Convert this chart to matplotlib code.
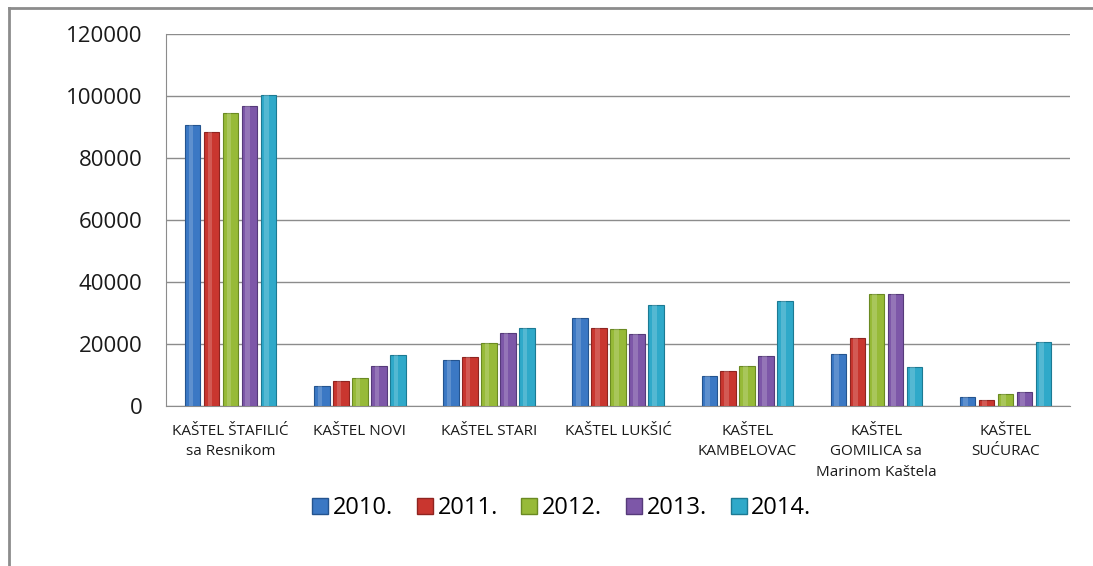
import numpy as np
import matplotlib
matplotlib.use('Agg')
import matplotlib.pyplot as plt
from matplotlib.patches import Patch

plt.rcParams['font.family'] = ['Open Sans', 'DejaVu Sans']

places = ['KAŠTEL ŠTAFILIĆ\nsa Resnikom', 'KAŠTEL NOVI', 'KAŠTEL STARI', 'KAŠTEL LUKŠIĆ',
          'KAŠTEL\nKAMBELOVAC', 'KAŠTEL\nGOMILICA sa\nMarinom Kaštela', 'KAŠTEL\nSUĆURAC']
years = ['2010.', '2011.', '2012.', '2013.', '2014.']

v2010 = [90500, 6500, 14900, 28200, 9500, 16700, 2900]
v2011 = [88400, 8000, 15600, 25100, 11100, 21800, 2000]
v2012 = [94400, 8900, 20200, 24700, 13000, 36100, 3850]
v2013 = [96800, 13000, 23500, 23200, 16000, 36100, 4300]
v2014 = [100300, 16500, 25100, 32400, 33700, 12500, 20500]
series = [v2010, v2011, v2012, v2013, v2014]

colors = ['#3b78c4', '#c9362f', '#97ba38', '#7d57a8', '#2fa9c9']
edges = ['#24548f', '#8f2420', '#6a8a22', '#563a7a', '#1c7a93']

fig = plt.figure(figsize=(10.93, 5.66), dpi=100)
ax = fig.add_axes([0.152, 0.283, 0.827, 0.657])

x = np.arange(len(places))
step = 0.147
w = 0.12
for i, vals in enumerate(series):
    off = (i - 2) * step
    ax.bar(x + off, vals, w, color=colors[i], edgecolor=edges[i], linewidth=0.8, zorder=3)
    # light highlight stripe for a bit of the 3d look
    ax.bar(x + off - w * 0.12, vals, w * 0.3, color='white', alpha=0.18, linewidth=0, zorder=4)

ax.set_xlim(-0.5, len(places) - 0.5)
ax.set_ylim(0, 120000)
ax.set_yticks(np.arange(0, 120001, 20000))
ax.tick_params(axis='y', length=0, pad=17, labelsize=16, labelcolor='#1a1a1a')
ax.tick_params(axis='x', length=0, pad=13, labelsize=11, labelcolor='#1a1a1a')
ax.set_xticks(x)
ax.set_xticklabels(places, linespacing=1.5)
ax.grid(axis='y', color='#8c8c8c', linewidth=1, zorder=0)
for s in ['top', 'right']:
    ax.spines[s].set_visible(False)
ax.spines['left'].set_color('#8c8c8c')
ax.spines['bottom'].set_color('#8c8c8c')

handles = [Patch(facecolor=colors[i], edgecolor=edges[i]) for i in range(5)]
fig.legend(handles, years, loc='center', bbox_to_anchor=(0.514, 0.102), ncol=5,
           frameon=False, fontsize=17, handlelength=0.68, handleheight=0.68,
           handletextpad=0.2, columnspacing=1.0)

# outer chart border (top and left only visible)
fig.add_artist(plt.Line2D([0.008, 0.008], [0, 0.985], transform=fig.transFigure,
                          color='#8c8c8c', linewidth=2))
fig.add_artist(plt.Line2D([0.008, 1.0], [0.985, 0.985], transform=fig.transFigure,
                          color='#8c8c8c', linewidth=2))

fig.savefig('out.png', dpi=100)
